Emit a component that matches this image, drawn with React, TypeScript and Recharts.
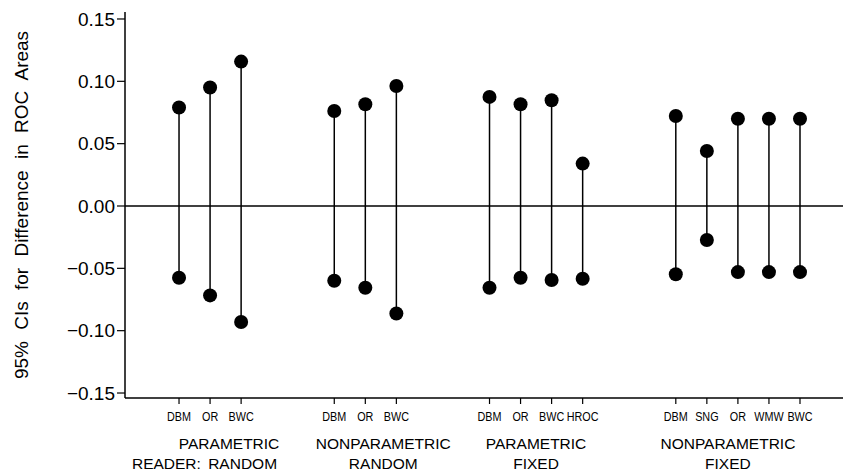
import React from "react";
import {
  ComposedChart,
  Scatter,
  XAxis,
  YAxis,
  ReferenceLine,
  Label,
} from "recharts";

// method labels per group (left to right)
const groupMethods: string[][] = [
  ["DBM", "OR", "BWC"],
  ["DBM", "OR", "BWC"],
  ["DBM", "OR", "BWC", "HROC"],
  ["DBM", "SNG", "OR", "WMW", "BWC"],
];

// group captions, two lines
const groupTop = ["PARAMETRIC", "NONPARAMETRIC", "PARAMETRIC", "NONPARAMETRIC"];
const groupBottom = ["READER: RANDOM", "RANDOM", "FIXED", "FIXED"];

// 95% CI bounds for the difference in ROC areas
const lowerBounds = [
  -0.0575, -0.0717, -0.093,
  -0.06, -0.0656, -0.0862,
  -0.0656, -0.0575, -0.0594, -0.0583,
  -0.0548, -0.0273, -0.053, -0.053, -0.053,
];
const upperBounds = [
  0.079, 0.095, 0.1158,
  0.0762, 0.0816, 0.0963,
  0.0875, 0.0816, 0.0848, 0.034,
  0.0722, 0.0441, 0.07, 0.07, 0.07,
];

const yTicks = [-0.15, -0.1, -0.05, 0, 0.05, 0.1, 0.15];

// slot positions: groups separated by two empty slots
const GAP = 3;
const slots: number[] = [];
const slotLabels: string[] = [];
const groupCenters: number[] = [];
{
  let pos = 0;
  groupMethods.forEach((methods) => {
    const start = pos;
    methods.forEach((m) => {
      slots.push(pos);
      slotLabels.push(m);
      pos += 1;
    });
    groupCenters.push((start + pos - 1) / 2);
    pos += GAP - 1;
  });
}

// small pixel nudges for the group captions (as in the original print)
const captionShift = [19, 18, 0, -10];

const intervals = slots.map((x, i) => [
  { x, y: lowerBounds[i] },
  { x, y: upperBounds[i] },
]);

const xDomain: [number, number] = [-1.74, 21.385];
const yDomain: [number, number] = [-0.154, 0.1556];

const FONT = "'Liberation Sans', Arial, Helvetica, sans-serif";

const fmtY = (v: number) => {
  const s = Math.abs(v).toFixed(2);
  return v < 0 ? `\u2212${s}` : s;
};

const MethodTick = (props: any) => {
  const { x, y, payload } = props;
  const idx = slots.indexOf(payload.value);
  return (
    <g transform={`translate(${x},${y})`}>
      <text
        transform="scale(0.8,1)"
        x={0}
        y={0}
        dy={15}
        textAnchor="middle"
        fontSize={13.5}
        fontFamily={FONT}
        fill="#000"
      >
        {slotLabels[idx]}
      </text>
    </g>
  );
};

const GroupTick = (props: any) => {
  const { x, y, payload } = props;
  const i = groupCenters.indexOf(payload.value);
  const cx = x + captionShift[i];
  const first = i === 0;
  return (
    <g>
      <text
        x={cx}
        y={y}
        dy={20.5}
        textAnchor="middle"
        fontSize={15.5}
        fontFamily={FONT}
        fill="#000"
      >
        {groupTop[i]}
      </text>
      <text
        x={first ? cx + 48 : cx}
        y={y}
        dy={40.5}
        textAnchor={first ? "end" : "middle"}
        fontSize={15.5}
        fontFamily={FONT}
        fill="#000"
        style={{ wordSpacing: 3 }}
      >
        {groupBottom[i]}
      </text>
    </g>
  );
};

const App: React.FC = () => {
  return (
    <div style={{ position: "absolute", left: 0, top: 0, background: "#fff" }}>
      <ComposedChart
        width={843}
        height={473}
        margin={{ top: 12, right: 0, bottom: 0, left: 0 }}
      >
        <XAxis
          xAxisId="top"
          orientation="top"
          type="number"
          dataKey="x"
          domain={xDomain}
          height={0}
          tick={false}
          tickLine={false}
          axisLine={{ stroke: "#000", strokeWidth: 1.5 }}
        />
        <XAxis
          xAxisId="main"
          type="number"
          dataKey="x"
          domain={xDomain}
          ticks={slots}
          interval={0}
          allowDataOverflow
          height={30}
          tickSize={6}
          tickMargin={2}
          tickLine={{ stroke: "#000", strokeWidth: 1.2 }}
          axisLine={{ stroke: "#000", strokeWidth: 1.5 }}
          tick={<MethodTick />}
        />
        <XAxis
          xAxisId="zgroup"
          type="number"
          dataKey="x"
          domain={xDomain}
          ticks={groupCenters}
          interval={0}
          allowDataOverflow
          height={45}
          tickSize={0}
          tickMargin={0}
          tickLine={false}
          axisLine={false}
          tick={<GroupTick />}
        />
        <YAxis
          type="number"
          dataKey="y"
          domain={yDomain}
          ticks={yTicks}
          interval={0}
          allowDataOverflow
          width={125}
          tickSize={8}
          tickMargin={2}
          tickFormatter={fmtY}
          tick={{ fill: "#000", fontSize: 19, fontFamily: FONT }}
          tickLine={{ stroke: "#000", strokeWidth: 1.2 }}
          axisLine={{ stroke: "#000", strokeWidth: 1.5 }}
        >
          <Label
            value="95% CIs for Difference in ROC Areas"
            angle={-90}
            position="insideLeft"
            offset={21}
            style={{
              textAnchor: "middle",
              fill: "#000",
              fontSize: 19,
              fontFamily: FONT,
              wordSpacing: 6,
            }}
          />
        </YAxis>
        <ReferenceLine
          xAxisId="main"
          y={0}
          stroke="#000"
          strokeWidth={1.5}
        />
        {intervals.map((pts, i) => (
          <Scatter
            key={i}
            xAxisId="main"
            data={pts}
            line={{ stroke: "#000", strokeWidth: 1.5 }}
            shape={(p: any) => <circle cx={p.cx} cy={p.cy} r={7} fill="#000" />}
            isAnimationActive={false}
          />
        ))}
      </ComposedChart>
    </div>
  );
};

export default App;
